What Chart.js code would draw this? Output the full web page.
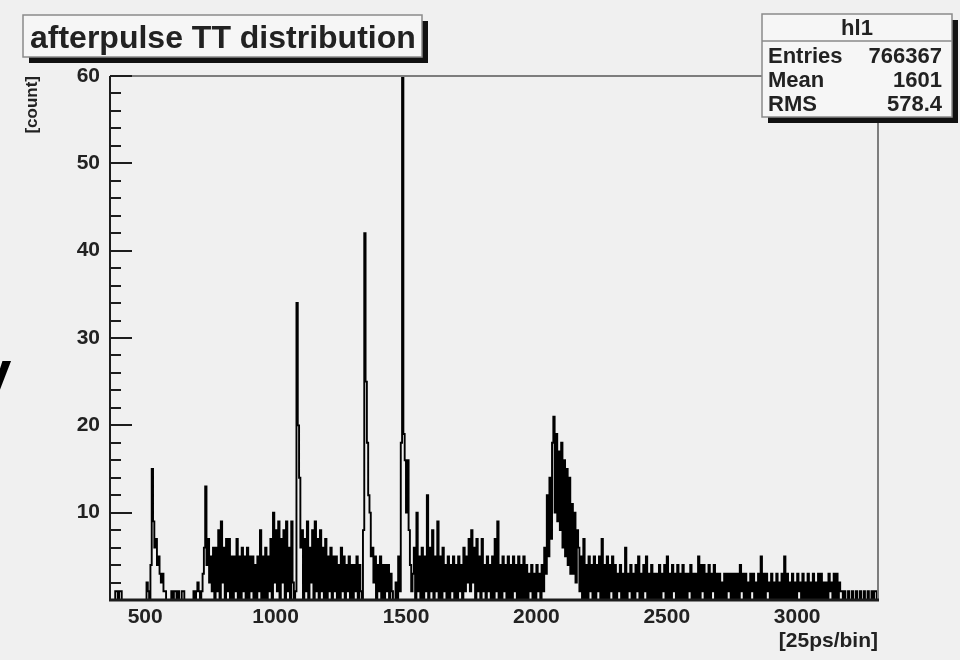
<!DOCTYPE html>
<html>
<head>
<meta charset="utf-8">
<script src="https://cdn.jsdelivr.net/npm/chart.js@4.4.1/dist/chart.umd.min.js"></script>
<style>
  html, body { margin: 0; padding: 0; background: #f0f0f0; }
  #wrap { width: 960px; height: 660px; }
</style>
</head>
<body>
<div id="wrap"><canvas id="chart" width="960" height="660"></canvas></div>
<script>
// histogram: lower edge of the first bin and bin width, in [25ps/bin] units
const binStart = 360;
const binWidth = 5;

// counts per bin, one row = 100 units (20 bins)
const counts = [
  0, 0, 0, 0, 0, 1, 1, 0, 1, 1, 0, 0, 0, 0, 0, 0, 0, 0, 0, 0,            // 360
  0, 0, 0, 0, 0, 0, 0, 0, 0, 2, 1, 0, 4, 15, 9, 6, 7, 4, 5, 3,           // 460
  2, 3, 1, 1, 0, 0, 0, 0, 1, 0, 1, 1, 0, 1, 0, 0, 1, 1, 0, 0,            // 560
  0, 0, 0, 0, 0, 1, 0, 1, 2, 1, 0, 1, 3, 6, 13, 4, 7, 2, 5, 1,           // 660
  6, 0, 6, 1, 8, 0, 9, 2, 6, 0, 7, 1, 7, 0, 5, 0, 5, 1, 7, 0,            // 760
  5, 0, 6, 1, 5, 0, 6, 0, 5, 1, 5, 0, 4, 0, 5, 1, 8, 0, 5, 0,            // 860
  6, 0, 5, 1, 7, 0, 10, 2, 8, 1, 9, 0, 7, 2, 8, 0, 9, 1, 6, 0,           // 960
  9, 2, 0, 1, 34, 20, 14, 6, 8, 0, 7, 1, 9, 0, 6, 2, 8, 0, 9, 1,         // 1060
  7, 0, 8, 1, 6, 0, 7, 0, 5, 1, 6, 0, 5, 1, 5, 0, 4, 0, 6, 1,            // 1160
  5, 0, 4, 1, 5, 0, 4, 0, 4, 1, 5, 0, 4, 1, 0, 8, 42, 25, 18, 12,        // 1260
  10, 5, 6, 2, 5, 0, 4, 1, 5, 0, 4, 0, 4, 1, 4, 0, 3, 1, 0, 0,           // 1360
  2, 0, 5, 1, 18, 60, 19, 16, 10, 16, 8, 4, 1, 3, 6, 0, 10, 1, 5, 0,     // 1460
  6, 0, 5, 1, 12, 0, 6, 1, 8, 0, 5, 1, 9, 0, 5, 0, 6, 1, 4, 0,           // 1560
  5, 0, 4, 1, 5, 0, 4, 0, 5, 1, 4, 0, 6, 1, 5, 2, 7, 1, 8, 2,            // 1660
  6, 0, 7, 1, 5, 0, 7, 1, 4, 0, 5, 1, 4, 0, 5, 0, 7, 1, 9, 0,            // 1760
  4, 0, 5, 1, 4, 0, 5, 0, 4, 0, 5, 1, 4, 0, 5, 0, 4, 0, 5, 0,            // 1860
  4, 0, 3, 1, 4, 0, 3, 0, 4, 1, 3, 0, 4, 1, 6, 3, 12, 5, 14, 7,          // 1960
  18, 21, 10, 19, 9, 17, 8, 18, 6, 16, 5, 15, 4, 14, 3, 11, 3, 10, 2, 8, // 2060
  6, 1, 5, 0, 7, 0, 4, 0, 5, 1, 4, 0, 5, 0, 4, 1, 5, 0, 7, 0,            // 2160
  4, 0, 5, 0, 4, 1, 5, 0, 4, 0, 3, 1, 4, 0, 3, 0, 6, 0, 3, 1,            // 2260
  4, 0, 3, 0, 4, 1, 5, 0, 3, 0, 4, 1, 5, 0, 3, 0, 4, 0, 3, 0,            // 2360
  3, 0, 4, 0, 3, 1, 4, 0, 5, 0, 3, 0, 4, 1, 3, 0, 4, 0, 3, 0,            // 2460
  4, 0, 3, 0, 3, 1, 4, 0, 3, 0, 3, 0, 5, 0, 4, 1, 4, 0, 3, 0,            // 2560
  4, 0, 3, 1, 4, 0, 3, 0, 3, 0, 2, 0, 3, 0, 3, 1, 3, 0, 3, 0,            // 2660
  3, 0, 3, 0, 4, 1, 3, 0, 3, 0, 2, 0, 3, 1, 3, 0, 2, 0, 3, 0,            // 2760
  5, 0, 3, 0, 3, 1, 2, 0, 3, 0, 2, 0, 3, 0, 2, 0, 3, 0, 5, 0,            // 2860
  3, 0, 2, 0, 3, 0, 2, 0, 3, 1, 2, 0, 3, 0, 2, 0, 3, 0, 2, 0,            // 2960
  3, 0, 2, 0, 3, 0, 3, 0, 2, 0, 2, 0, 3, 1, 2, 0, 3, 0, 3, 0,            // 3060
  2, 1, 1, 0, 1, 0, 0, 1, 0, 0, 1, 0, 0, 1, 0, 0, 1, 0, 0, 1,            // 3160
  0, 0, 1, 0, 0, 1, 0, 1, 1, 0                                           // 3260
];

const xTicks = [500, 1000, 1500, 2000, 2500, 3000];
const yTicks = [10, 20, 30, 40, 50, 60];
const yMinorStep = 2;

const titleText = "afterpulse TT distribution";
const statsName = "hl1";
const statsLabels = ["Entries", "Mean", "RMS"];
const statsValues = ["766367", "1601", "578.4"];

const FONT = "'Liberation Sans', Arial, Helvetica, sans-serif";
const INK = "#222";
Chart.defaults.font.family = FONT;

function shadowBox(ctx, x, y, w, h) {
  ctx.fillStyle = "#111";
  ctx.fillRect(x + 6, y + 6, w, h);
  ctx.fillStyle = "#f6f6f6";
  ctx.fillRect(x, y, w, h);
  ctx.strokeStyle = "#8a8a8a";
  ctx.lineWidth = 1.5;
  ctx.strokeRect(x, y, w, h);
}

// ROOT-like frame: grey top/right, dark axes with ticks pointing inwards
const rootFrame = {
  id: "rootFrame",
  beforeDraw(chart) {
    const { ctx, width, height } = chart;
    ctx.save();
    ctx.fillStyle = "#f0f0f0";
    ctx.fillRect(0, 0, width, height);
    ctx.restore();
  },
  afterDatasetsDraw(chart) {
    const { ctx, chartArea: a, scales: { y } } = chart;
    ctx.save();
    ctx.strokeStyle = "#7d7d7d";
    ctx.lineWidth = 2;
    ctx.beginPath();
    ctx.moveTo(a.left, a.top);
    ctx.lineTo(a.right, a.top);
    ctx.lineTo(a.right, a.bottom);
    ctx.stroke();

    ctx.strokeStyle = "#1c1c1c";
    ctx.beginPath();
    ctx.moveTo(a.left, a.top);
    ctx.lineTo(a.left, a.bottom);
    for (let v = y.min; v <= y.max; v += yMinorStep) {
      const py = Math.round(y.getPixelForValue(v));
      const len = v % 10 === 0 ? 22 : 11;
      ctx.moveTo(a.left, py);
      ctx.lineTo(a.left + len, py);
    }
    ctx.stroke();

    ctx.lineWidth = 3;
    ctx.beginPath();
    ctx.moveTo(a.left - 1, a.bottom);
    ctx.lineTo(a.right + 1, a.bottom);
    ctx.stroke();
    ctx.restore();
  },
  afterDraw(chart) {
    const ctx = chart.ctx;
    ctx.save();
    // title pave
    shadowBox(ctx, 23, 15, 399, 42);
    ctx.fillStyle = INK;
    ctx.font = "bold 32px " + FONT;
    ctx.textAlign = "left";
    ctx.textBaseline = "alphabetic";
    ctx.fillText(titleText, 30, 48);

    // stats box
    shadowBox(ctx, 762, 14, 190, 103);
    ctx.strokeStyle = "#8a8a8a";
    ctx.lineWidth = 1.5;
    ctx.beginPath();
    ctx.moveTo(762, 41);
    ctx.lineTo(952, 41);
    ctx.stroke();
    ctx.fillStyle = INK;
    ctx.font = "bold 22px " + FONT;
    ctx.textAlign = "center";
    ctx.fillText(statsName, 857, 35);
    statsLabels.forEach((lab, i) => {
      const by = 63 + i * 24;
      ctx.textAlign = "left";
      ctx.fillText(lab, 768, by);
      ctx.textAlign = "right";
      ctx.fillText(statsValues[i], 942, by);
    });

    // cut-off letter at the left edge of the screenshot
    ctx.font = "bold 60px " + FONT;
    ctx.textAlign = "left";
    ctx.fillStyle = "#000";
    ctx.fillText("y", -22, 392);
    ctx.restore();
  }
};

const ctx = document.getElementById("chart").getContext("2d");
new Chart(ctx, {
  type: "line",
  data: {
    datasets: [{
      data: counts.map((c, i) => ({ x: binStart + i * binWidth, y: c })),
      stepped: true,
      borderColor: "#000",
      borderWidth: 1.9,
      pointRadius: 0,
      fill: false,
      tension: 0
    }]
  },
  options: {
    responsive: false,
    animation: false,
    events: [],
    layout: { padding: { top: 76, right: 82, left: 0, bottom: 0 } },
    plugins: { legend: { display: false }, tooltip: { enabled: false } },
    scales: {
      x: {
        type: "linear",
        min: 365,
        max: 3310,
        afterBuildTicks: s => { s.ticks = xTicks.map(v => ({ value: v })); },
        afterFit: s => { s.height = 60; },
        grid: { display: false, drawTicks: false },
        border: { display: false },
        ticks: {
          color: INK, font: { size: 21, weight: "bold" }, padding: 5,
          maxRotation: 0, autoSkip: false, callback: v => String(v)
        },
        title: {
          display: true, text: "[25ps/bin]", align: "end", color: INK,
          font: { size: 21, weight: "bold" }, padding: { top: 0, bottom: 6 }
        }
      },
      y: {
        min: 0,
        max: 60,
        afterBuildTicks: s => { s.ticks = yTicks.map(v => ({ value: v })); },
        afterFit: s => { s.width = 110; },
        grid: { display: false, drawTicks: false },
        border: { display: false },
        ticks: { color: INK, font: { size: 21, weight: "bold" }, padding: 10, callback: v => String(v) },
        title: {
          display: true, text: "[count]", align: "end", color: INK,
          font: { size: 17, weight: "bold" }, padding: { top: 22 }
        }
      }
    }
  },
  plugins: [rootFrame]
});
</script>
</body>
</html>
